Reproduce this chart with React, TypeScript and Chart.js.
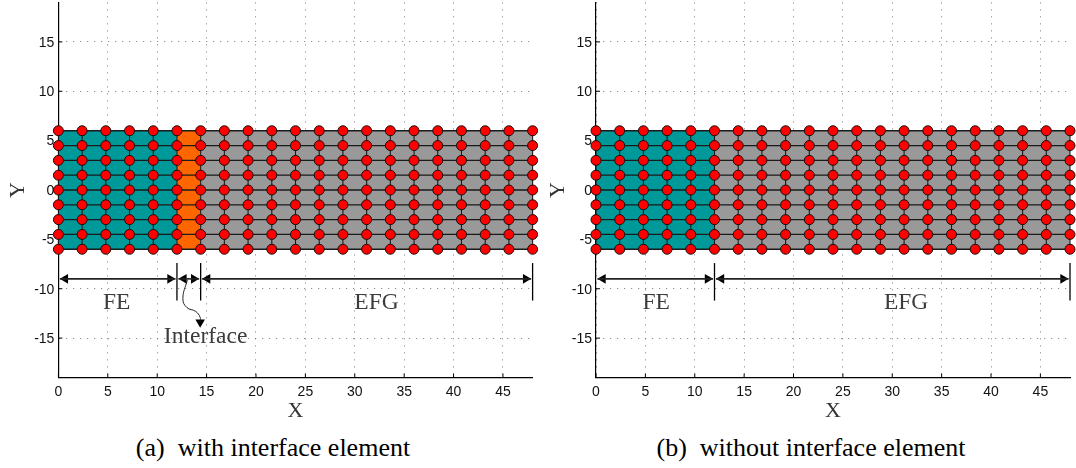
import React, { useEffect, useRef } from "react";
import { Chart, registerables } from "chart.js";

Chart.register(...registerables);

const nodeXs = [0, 2.4, 4.8, 7.2, 9.6, 12, 14.4, 16.8, 19.2, 21.6, 24, 26.4, 28.8, 31.2, 33.6, 36, 38.4, 40.8, 43.2, 45.6, 48];
const nodeYs = [-6, -4.5, -3, -1.5, 0, 1.5, 3, 4.5, 6];
const xTicks = [0, 5, 10, 15, 20, 25, 30, 35, 40, 45];
const yTicks = [-15, -10, -5, 0, 5, 10, 15];

const regionsA = [
  { from: 0, to: 12, color: "#009999" },
  { from: 12, to: 14.4, color: "#ff6600" },
  { from: 14.4, to: 48, color: "#999999" },
];
const regionsB = [
  { from: 0, to: 12, color: "#009999" },
  { from: 12, to: 48, color: "#999999" },
];
const spansA = [[0, 12], [12, 14.4], [14.4, 48]];
const spansB = [[0, 12], [12, 48]];
const dividersA = [12, 14.4, 48];
const dividersB = [12, 48];
const labelsA = [
  { text: "FE", x: 5.9, y: -11.4 },
  { text: "EFG", x: 32.2, y: -11.4 },
  { text: "Interface", x: 14.9, y: -14.85 },
];
const labelsB = [
  { text: "FE", x: 6.1, y: -11.4 },
  { text: "EFG", x: 31.4, y: -11.4 },
];
const curveX = [13.05, 12.6, 13.0, 13.9, 14.35, 14.35];
const curveY = [-9.1, -11.0, -11.9, -12.3, -12.9, -13.3];
const arrowY = -9.0;
const dividerLow = -11.2;
const dividerHigh = -7.4;

const SERIF = '"Liberation Serif", serif';
const SANS = '"Liberation Sans", Arial, sans-serif';

type Config = {
  regions: typeof regionsA;
  spans: number[][];
  dividers: number[];
  labels: typeof labelsA;
  curve: boolean;
  axisWidth: number;
  rightPad: number;
  canvasWidth: number;
};

function buildDatasets(c: Config) {
  const ds: any[] = [];
  const pts = (a: number[][]) => a.map(([x, y]) => ({ x, y }));
  const line = (data: any[], width = 1.2, color = "#1a1a1a", order = 2, extra: any = {}) => ({
    type: "line", data, borderColor: color, borderWidth: width, pointRadius: 0, order, clip: false, fill: false, ...extra,
  });
  ds.push({
    type: "scatter",
    data: nodeXs.flatMap((x) => nodeYs.map((y) => ({ x, y }))),
    pointStyle: "circle", pointRadius: 5, pointBackgroundColor: "#ff0000", pointBorderColor: "#111", pointBorderWidth: 1,
    showLine: false, order: 0, clip: false,
  });
  nodeYs.forEach((y) => ds.push(line(pts([[0, y], [48, y]]), 1.3)));
  nodeXs.forEach((x) => ds.push(line(pts([[x, -6], [x, 6]]), 1.1)));
  c.regions.forEach((r) =>
    ds.push({
      type: "line", data: pts([[r.from, 6], [r.to, 6]]), borderWidth: 0, pointRadius: 0,
      backgroundColor: r.color, fill: { value: -6 }, order: 5,
    })
  );
  c.spans.forEach(([a, b]) => {
    ds.push(line(pts([[a + 0.15, arrowY], [b - 0.15, arrowY]]), 1.6, "#222", 1));
    const head = (x: number, rot: number) => ({
      type: "scatter", data: [{ x, y: arrowY }], pointStyle: "triangle", pointRadius: 5.5, pointRotation: rot,
      pointBackgroundColor: "#000", pointBorderColor: "#000", pointBorderWidth: 0, showLine: false, order: 1, clip: false,
    });
    ds.push(head(a + 0.7, -90));
    ds.push(head(b - 0.7, 90));
  });
  c.dividers.forEach((x) => ds.push(line(pts([[x, dividerLow], [x, dividerHigh]]), 1.3, "#000", 1)));
  if (c.curve) {
    ds.push(line(curveX.map((x, i) => ({ x, y: curveY[i] })), 1, "#222", 1, { tension: 0.45 }));
    ds.push({
      type: "scatter", data: [{ x: curveX[curveX.length - 1], y: curveY[curveY.length - 1] - 0.1 }],
      pointStyle: "triangle", pointRadius: 5.5, pointRotation: 180, pointBackgroundColor: "#000", pointBorderWidth: 0,
      showLine: false, order: 1, clip: false,
    });
  }
  return ds;
}

const decor = (labels: typeof labelsA) => ({
  id: "decor",
  beforeDatasetsDraw(chart: any) {
    const { ctx, scales } = chart;
    const { x, y } = scales;
    ctx.save();
    ctx.strokeStyle = "#000";
    ctx.lineWidth = 1;
    xTicks.forEach((v) => {
      const p = x.getPixelForValue(v);
      ctx.beginPath(); ctx.moveTo(p, y.bottom); ctx.lineTo(p, y.bottom - 4); ctx.stroke();
    });
    yTicks.forEach((v) => {
      const p = y.getPixelForValue(v);
      ctx.beginPath(); ctx.moveTo(x.left, p); ctx.lineTo(x.left + 4, p); ctx.stroke();
    });
    ctx.restore();
  },
  afterDatasetsDraw(chart: any) {
    const { ctx, scales } = chart;
    ctx.save();
    ctx.fillStyle = "#3c3c3c";
    ctx.font = `23.5px ${SERIF}`;
    ctx.textAlign = "center";
    ctx.textBaseline = "middle";
    labels.forEach((l) => ctx.fillText(l.text, scales.x.getPixelForValue(l.x), scales.y.getPixelForValue(l.y)));
    ctx.restore();
  },
});

function Panel({ cfg, left }: { cfg: Config; left: number }) {
  const ref = useRef<HTMLCanvasElement>(null);
  useEffect(() => {
    const chart = new Chart(ref.current!, {
      type: "scatter",
      data: { datasets: buildDatasets(cfg) },
      options: {
        animation: false,
        responsive: false,
        layout: { autoPadding: false, padding: { top: 2.4, right: cfg.rightPad, left: 0, bottom: 0 } },
        plugins: { legend: { display: false }, tooltip: { enabled: false }, title: { display: false } },
        scales: {
          x: {
            type: "linear", min: 0, max: 48,
            afterBuildTicks: (s: any) => { s.ticks = xTicks.map((value) => ({ value })); },
            afterFit: (s: any) => { s.height = 46.4; s.paddingLeft = 0; s.paddingRight = 0; },
            grid: { color: "#777", drawTicks: false },
            border: { color: "#000", width: 1.2, dash: [1, 6] },
            ticks: { color: "#111", padding: 6, maxRotation: 0, autoSkip: false, font: { family: SANS, size: 14 }, callback: (v: any) => String(v) },
            title: { display: true, text: "X", color: "#333", font: { family: SERIF, size: 22 }, padding: { top: 0, bottom: 0 } },
          },
          y: {
            type: "linear", min: -19, max: 19,
            afterBuildTicks: (s: any) => { s.ticks = yTicks.map((value) => ({ value })); },
            afterFit: (s: any) => { s.width = cfg.axisWidth; s.paddingTop = 0; s.paddingBottom = 0; },
            grid: { color: "#777", drawTicks: false },
            border: { color: "#000", width: 1.2, dash: [1, 6] },
            ticks: { color: "#111", padding: 4, labelOffset: 1, autoSkip: false, font: { family: SANS, size: 14 }, callback: (v: any) => String(v) },
            title: { display: true, text: "Y", color: "#333", font: { family: SERIF, size: 22 }, padding: { top: 5, bottom: 0 } },
          },
        },
      } as any,
      plugins: [decor(cfg.labels)],
    });
    return () => chart.destroy();
  }, []);
  return (
    <canvas
      ref={ref}
      width={cfg.canvasWidth}
      height={424}
      style={{ position: "absolute", left, top: 0, width: cfg.canvasWidth, height: 424 }}
    />
  );
}

const captionStyle = (center: number): React.CSSProperties => ({
  position: "absolute", left: center - 260, width: 520, top: 433, textAlign: "center",
  font: `26px ${SERIF}`, color: "#000", whiteSpace: "pre",
});

export default function App() {
  return (
    <div style={{ position: "absolute", left: 0, top: 0, width: 1076, height: 468, background: "#fff", overflow: "hidden" }}>
      <Panel left={0} cfg={{ regions: regionsA, spans: spansA, dividers: dividersA, labels: labelsA, curve: true, axisWidth: 58.4, rightPad: 7.4, canvasWidth: 540 }} />
      <Panel left={540} cfg={{ regions: regionsB, spans: spansB, dividers: dividersB, labels: labelsB, curve: false, axisWidth: 56, rightPad: 6, canvasWidth: 536 }} />
      <div style={captionStyle(273)}>{"(a)  with interface element"}</div>
      <div style={captionStyle(811)}>{"(b)  without interface element"}</div>
    </div>
  );
}
